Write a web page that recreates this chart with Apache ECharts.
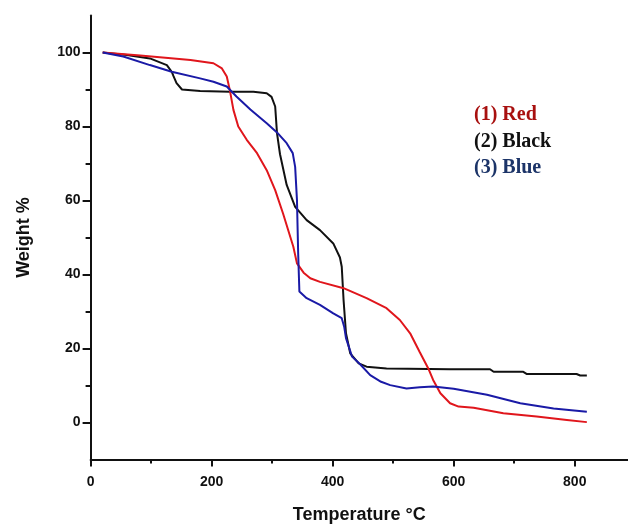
<!DOCTYPE html>
<html>
<head>
<meta charset="utf-8">
<script src="https://cdn.jsdelivr.net/npm/echarts@6/dist/echarts.min.js"></script>
<style>
html,body{margin:0;padding:0;background:#fff;}
#chart{width:628px;height:525px;}
</style>
</head>
<body>
<div id="chart"></div>
<script>
// Data (Temperature °C, Weight %)
var redData = [[20,100],[82,99.2],[165,98],[203,97.1],[217,95.7],[225,93.5],[230,89.9],[236,84.5],[244,80],[258,76.4],[275,72.8],[291,68.2],[305,62.8],[318,56.5],[335,47.5],[341,43],[352,40.5],[363,39],[379,38],[418,36.3],[456,33.6],[489,30.9],[511,27.7],[528,24.1],[544,19],[558,14.6],[566,11.5],[578,7.9],[594,5.2],[608,4.3],[633,4.0],[682,2.5],[737,1.6],[787,0.7],[820,0.1]];
var blackData = [[20,100],[60,99.3],[98,98.4],[126,96.6],[134,94.8],[137,93.6],[142,91.7],[151,90.0],[181,89.6],[230,89.4],[269,89.4],[291,89],[299,88],[305,85.4],[308,78.2],[313,72.5],[324,64.2],[338,58.3],[357,54.7],[379,52],[401,48.4],[412,44.6],[415,42.1],[418,33.1],[422,24.1],[429,18.7],[443,16],[456,15.1],[489,14.6],[594,14.4],[660,14.4],[666,13.7],[715,13.7],[721,13.1],[803,13.1],[809,12.7],[820,12.7]];
var blueData = [[20,100],[54,98.9],[98,96.6],[134,94.8],[181,93],[203,92.1],[225,90.8],[241,88.1],[264,84.6],[291,80.9],[308,78.4],[324,75.5],[334,72.8],[338,69.1],[341,60.1],[343,45.7],[345,35.4],[357,33.6],[379,31.8],[401,29.5],[415,28.2],[419,25.9],[422,22.8],[432,17.8],[445,15.8],[462,12.8],[480,11],[495,10.1],[522,9.2],[544,9.5],[566,9.7],[600,9.1],[655,7.5],[710,5.2],[765,3.8],[820,2.9]];
var seriesNames = ['(1) Red','(2) Black','(3) Blue'];
var yMajorTicks = [0,20,40,60,80,100];
var yMinorTicks = [10,30,50,70,90];
var xMajorTicks = [0,200,400,600,800];
var xMinorTicks = [100,300,500,700];

var chart = echarts.init(document.getElementById('chart'), null, {renderer:'canvas'});
var axisColor = '#111';
var labelFont = {fontFamily:'Liberation Sans, Arial, sans-serif', fontWeight:'bold', fontSize:14, color:'#111'};
var option = {
  backgroundColor:'#fff',
  animation:false,
  grid:{left:90.6, top:15.5, right:0, bottom:65.5, containLabel:false, outerBoundsMode:'none'},
  legend:{
    orient:'vertical', left:464, top:100,
    itemWidth:0, itemHeight:14, itemGap:6.5, icon:'none',
    textStyle:{fontFamily:'Liberation Serif, Times New Roman, serif', fontWeight:'bold', fontSize:20, lineHeight:20},
    data:[
      {name:seriesNames[0], textStyle:{color:'#a8100f'}},
      {name:seriesNames[1], textStyle:{color:'#111111'}},
      {name:seriesNames[2], textStyle:{color:'#1c3468'}}
    ]
  },
  xAxis:[{
    type:'value', min:0, max:888,
    name:'Temperature °C', nameLocation:'middle', nameGap:47,
    nameTextStyle:{fontFamily:'Liberation Sans, Arial, sans-serif', fontWeight:'bold', fontSize:18, color:'#111'},
    axisLine:{show:true, onZero:false, lineStyle:{color:axisColor, width:2}},
    axisTick:{show:true, length:7, customValues:xMajorTicks, lineStyle:{color:axisColor, width:2}},
    axisLabel:Object.assign({margin:16, customValues:xMajorTicks}, labelFont),
    splitLine:{show:false}
  },{
    type:'value', min:0, max:888, position:'bottom',
    axisLine:{show:false, onZero:false},
    axisTick:{show:true, length:4, customValues:xMinorTicks, lineStyle:{color:axisColor, width:2}},
    axisLabel:{show:false},
    splitLine:{show:false}
  }],
  yAxis:[{
    type:'value', min:-10, max:110,
    name:'Weight %', nameLocation:'middle', nameGap:58,
    nameTextStyle:{fontFamily:'Liberation Sans, Arial, sans-serif', fontWeight:'bold', fontSize:18, color:'#111'},
    axisLine:{show:true, onZero:false, lineStyle:{color:axisColor, width:2}},
    axisTick:{show:true, length:8, customValues:yMajorTicks, lineStyle:{color:axisColor, width:2}},
    axisLabel:Object.assign({margin:10, customValues:yMajorTicks}, labelFont),
    splitLine:{show:false}
  },{
    type:'value', min:-10, max:110, position:'left',
    axisLine:{show:false, onZero:false},
    axisTick:{show:true, length:5, customValues:yMinorTicks, lineStyle:{color:axisColor, width:2}},
    axisLabel:{show:false},
    splitLine:{show:false}
  }],
  series:[
    {name:seriesNames[0], type:'line', data:redData, showSymbol:false, symbol:'none', lineStyle:{color:'#e0161c', width:2}, itemStyle:{color:'#e0161c'}, z:3},
    {name:seriesNames[1], type:'line', data:blackData, showSymbol:false, symbol:'none', lineStyle:{color:'#111111', width:2}, itemStyle:{color:'#111111'}, z:2},
    {name:seriesNames[2], type:'line', data:blueData, showSymbol:false, symbol:'none', lineStyle:{color:'#1a1aa6', width:2}, itemStyle:{color:'#1a1aa6'}, z:4}
  ]
};
chart.setOption(option);
</script>
</body>
</html>
